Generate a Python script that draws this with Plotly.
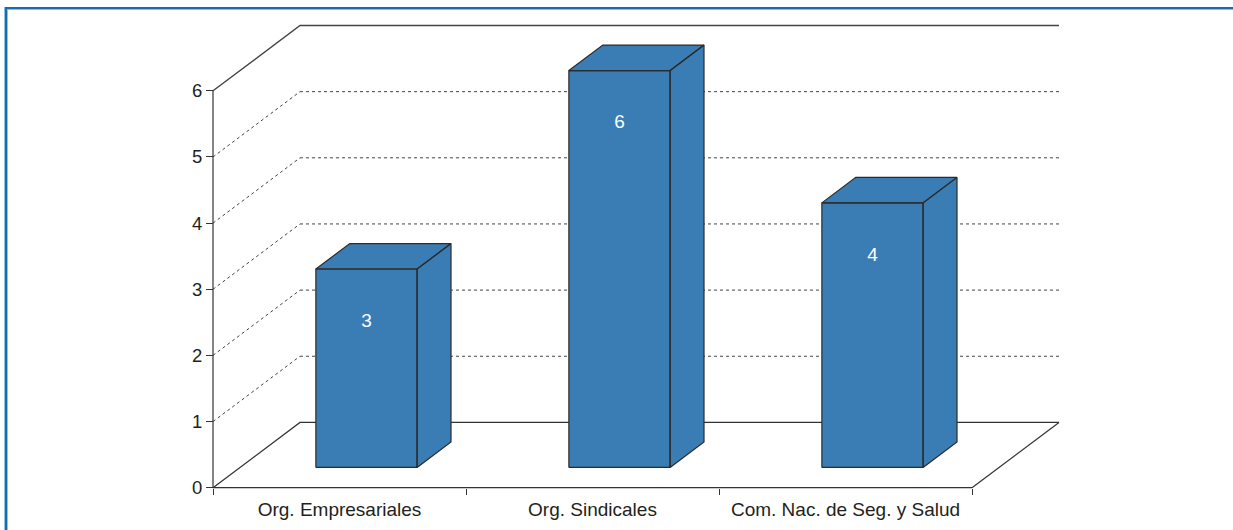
import plotly.graph_objects as go

# ---- data ----
categories = ["Org. Empresariales", "Org. Sindicales", "Com. Nac. de Seg. y Salud"]
values = [3, 6, 4]
y_ticks = [0, 1, 2, 3, 4, 5, 6]

# ---- layout constants ----
W, H = 1233, 530
L, R, T, B = 203, 160, 18, 32
PX_X = 253.0      # pixels per category
PX_Y = 66.15      # pixels per value unit
pw, ph = W - L - R, H - T - B
X0 = -(213 - L) / PX_X
X1 = X0 + pw / PX_X
Y0 = -((H - B) - 487.7) / PX_Y
Y1 = Y0 + ph / PX_Y

DX = 87 / PX_X      # depth offset (x, category units)
DY = 65.3 / PX_Y    # depth offset (y, value units)
BAR_W = 0.4
F0, F1 = 0.31, 0.70  # bar depth (front / back fraction of floor depth)
LABEL_DROP = 0.8
n = len(categories)
YMAX = max(y_ticks)

BAR_COLOR = "#3a7db5"
EDGE = "#2b2b2b"
TXT = "#231f20"
FONT = "Arial, Liberation Sans, Helvetica, sans-serif"

fig = go.Figure()

# dotted grid on back wall + dotted side diagonals
gx, gy = [], []
for k in y_ticks[1:-1]:
    gx += [DX, n + DX, None, 0, DX, None]
    gy += [k + DY, k + DY, None, k, k + DY, None]
fig.add_trace(go.Scatter(x=gx, y=gy, mode="lines",
                         line=dict(color="#444444", width=1, dash="dot"),
                         hoverinfo="skip", showlegend=False))

# back wall top edge (slightly heavier grey)
fig.add_trace(go.Scatter(x=[0, DX, n + DX], y=[YMAX, YMAX + DY, YMAX + DY], mode="lines",
                         line=dict(color="#444444", width=1.4),
                         hoverinfo="skip", showlegend=False))

# solid frame: axis line and floor
fx = [0, 0, None,
      0, n, None,
      0, DX, n + DX, None,
      n, n + DX, None]
fy = [0, YMAX, None,
      0, 0, None,
      0, DY, DY, None,
      0, DY, None]
fig.add_trace(go.Scatter(x=fx, y=fy, mode="lines",
                         line=dict(color="#333333", width=1.2),
                         hoverinfo="skip", showlegend=False))

# bars (front, side, top faces)
lx, ly, lt = [], [], []
for i, v in enumerate(values):
    c = i + 0.5
    a, b = c - BAR_W / 2, c + BAR_W / 2
    x0f, y0f = F0 * DX, F0 * DY
    x1f, y1f = F1 * DX, F1 * DY
    xs = [a + x0f, b + x0f, b + x0f, a + x0f, a + x0f, None,
          b + x0f, b + x1f, b + x1f, b + x0f, b + x0f, None,
          a + x0f, b + x0f, b + x1f, a + x1f, a + x0f]
    ys = [y0f, y0f, v + y0f, v + y0f, y0f, None,
          y0f, y1f, v + y1f, v + y0f, y0f, None,
          v + y0f, v + y0f, v + y1f, v + y1f, v + y0f]
    fig.add_trace(go.Scatter(x=xs, y=ys, mode="lines", fill="toself",
                             fillcolor=BAR_COLOR,
                             line=dict(color=EDGE, width=1.2),
                             hoverinfo="skip", showlegend=False))
    lx.append(c + x0f)
    ly.append(v + y0f - LABEL_DROP)
    lt.append(str(v))

fig.add_trace(go.Scatter(x=lx, y=ly, mode="text", text=lt,
                         textposition="middle center",
                         textfont=dict(color="white", size=19, family=FONT),
                         hoverinfo="skip", showlegend=False))

# ---- border (decorative frame) ----
def px_x(p):
    return (p - L) / pw

def px_y(p):
    return (H - B - p) / ph

shapes = [
    dict(type="rect", xref="paper", yref="paper", x0=px_x(4), x1=px_x(W + 20),
         y0=px_y(7), y1=px_y(9), fillcolor="#1b6aae", line=dict(width=0)),
    dict(type="rect", xref="paper", yref="paper", x0=px_x(7), x1=px_x(W + 20),
         y0=px_y(9), y1=px_y(10), fillcolor="#8ec0e4", line=dict(width=0)),
    dict(type="rect", xref="paper", yref="paper", x0=px_x(5), x1=px_x(7),
         y0=px_y(7), y1=px_y(H + 20), fillcolor="#1b6aae", line=dict(width=0)),
    dict(type="rect", xref="paper", yref="paper", x0=px_x(4), x1=px_x(5),
         y0=px_y(7), y1=px_y(H + 20), fillcolor="#8ec0e4", line=dict(width=0)),
    dict(type="rect", xref="paper", yref="paper", x0=px_x(7), x1=px_x(8),
         y0=px_y(9), y1=px_y(H + 20), fillcolor="#8ec0e4", line=dict(width=0)),
]

fig.update_layout(
    width=W, height=H,
    margin=dict(l=L, r=R, t=T, b=B, autoexpand=False),
    paper_bgcolor="white", plot_bgcolor="white",
    font=dict(family=FONT, color=TXT),
    shapes=shapes,
    xaxis=dict(
        range=[X0, X1], showgrid=False, zeroline=False, showline=False,
        tickmode="array", tickvals=[i + 0.5 for i in range(n)], ticktext=categories,
        ticks="", tickfont=dict(size=19, color=TXT, family=FONT),
        ticklabelstandoff=8,
        anchor="free", position=(0 - Y0) / (Y1 - Y0),
        minor=dict(tickmode="array", tickvals=list(range(n + 1)), ticks="outside",
                   ticklen=6, tickcolor="#333333", tickwidth=1, showgrid=False),
        fixedrange=True,
    ),
    yaxis=dict(
        range=[Y0, Y1], showgrid=False, zeroline=False, showline=False,
        tickmode="array", tickvals=y_ticks, ticks="outside", ticklen=7,
        tickcolor="#333333", tickwidth=1,
        tickfont=dict(size=18.5, color=TXT, family=FONT),
        anchor="free", position=(0 - X0) / (X1 - X0),
        fixedrange=True,
    ),
)

fig.write_html("out.html",
               config={"displayModeBar": False, "staticPlot": True},
               post_script="document.body.style.margin='0';document.body.style.overflow='hidden';")
